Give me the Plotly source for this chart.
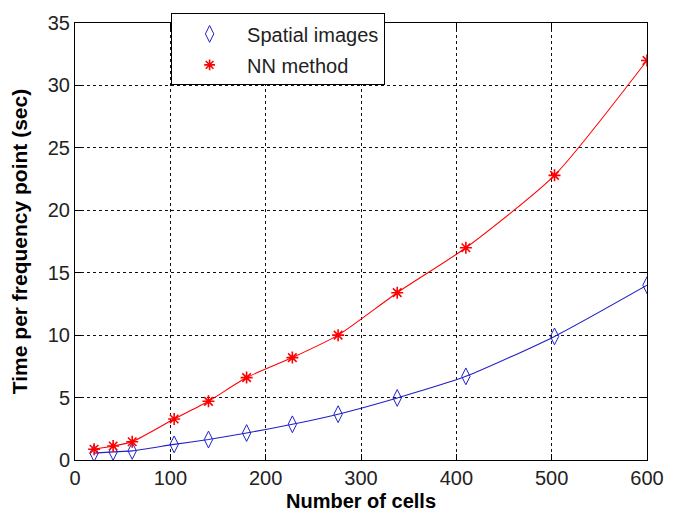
import plotly.graph_objects as go

cells = [20, 40, 60, 104, 140, 180, 228, 276, 338, 410, 503, 600]
spatial = [0.55, 0.65, 0.73, 1.25, 1.64, 2.16, 2.86, 3.67, 4.97, 6.7, 9.9, 14.0]
nn = [0.86, 1.12, 1.46, 3.28, 4.7, 6.6, 8.2, 10.0, 13.4, 17.0, 22.8, 32.0]
x_ticks = [0, 100, 200, 300, 400, 500, 600]
y_ticks = [0, 5, 10, 15, 20, 25, 30, 35]

font_family = "Liberation Sans, Arial, sans-serif"
blue = "#2020c8"
red = "#ff0000"

fig = go.Figure()
fig.add_trace(go.Scatter(
    x=cells, y=spatial, mode="lines+markers", name="Spatial images",
    line=dict(color=blue, width=1.1, shape="spline", smoothing=0.6),
    marker=dict(symbol="diamond-tall-open", size=12, color=blue, line=dict(width=1, color=blue)),
    showlegend=False,
))
fig.add_trace(go.Scatter(
    x=cells, y=nn, mode="lines+markers", name="NN method",
    line=dict(color=red, width=1.1, shape="spline", smoothing=0.6),
    marker=dict(symbol="asterisk-open", size=10, color=red, line=dict(width=1.6, color=red)),
    showlegend=False,
))
# legend entries (markers only, as in the original)
fig.add_trace(go.Scatter(
    x=[None], y=[None], mode="markers", name="Spatial images",
    marker=dict(symbol="diamond-tall-open", size=12, color=blue, line=dict(width=1, color=blue)),
    legendgroup="a",
))
fig.add_trace(go.Scatter(
    x=[None], y=[None], mode="markers", name="NN method",
    marker=dict(symbol="asterisk-open", size=9, color=red, line=dict(width=1.6, color=red)),
    legendgroup="b",
))

axis_common = dict(
    showline=True, linecolor="black", linewidth=1, mirror="ticks",
    ticks="inside", ticklen=6, tickcolor="black",
    showgrid=True, gridcolor="#111", griddash="3px,3px", gridwidth=1,
    zeroline=False,
    tickfont=dict(family=font_family, size=20, color="#222"),
)

fig.update_xaxes(range=[0, 600], tickvals=x_ticks,
                 title=dict(text="<b>Number of cells</b>", font=dict(family=font_family, size=20, color="black"), standoff=5),
                 **axis_common)
fig.update_yaxes(range=[0, 35], tickvals=y_ticks,
                 title=dict(text="<b>Time per frequency point (sec)</b>", font=dict(family=font_family, size=21, color="black"), standoff=14),
                 **axis_common)

fig.update_layout(
    width=685, height=520,
    margin=dict(l=75, r=38, t=13, b=59),
    plot_bgcolor="white", paper_bgcolor="white",
    showlegend=True,
    legend=dict(
        x=0.168, y=1.022, xanchor="left", yanchor="top",
        bgcolor="white", bordercolor="black", borderwidth=1,
        font=dict(family=font_family, size=20, color="#222"),
        traceorder="grouped", tracegroupgap=2,
        itemwidth=65,
    ),
)

fig.write_html("out.html")
